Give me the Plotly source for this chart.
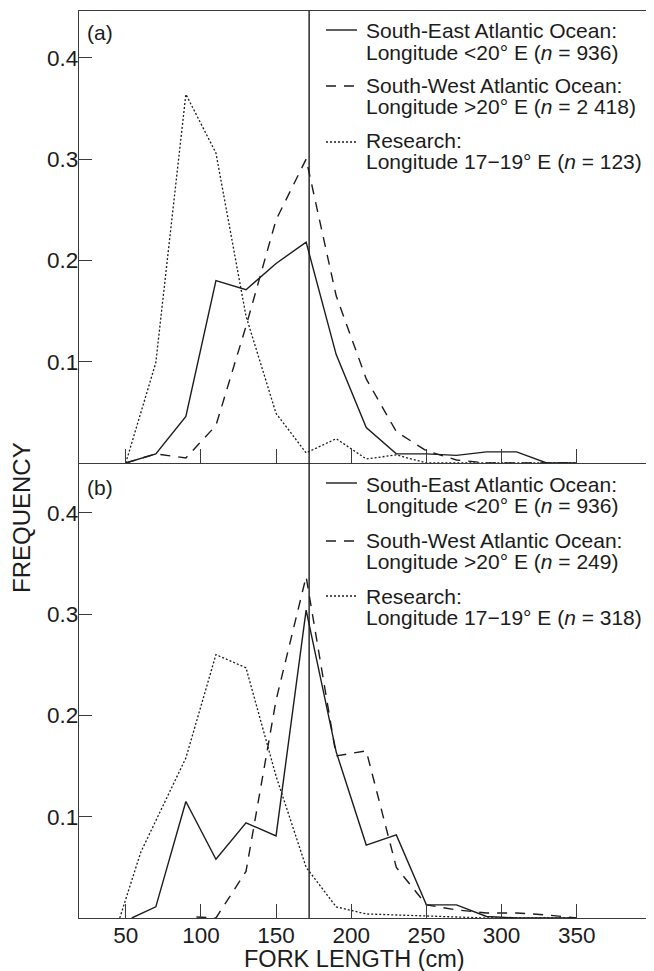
import plotly.graph_objects as go

# ---------------- data ----------------
fl_a = [50, 70, 90, 110, 130, 150, 170, 190, 210, 230, 250, 270, 290, 310, 330, 350]
se_a = [0, 0.009, 0.046, 0.180, 0.171, 0.197, 0.218, 0.107, 0.035, 0.009, 0.009, 0.0075, 0.011, 0.011, 0, 0]
sw_a = [0, 0.009, 0.005, 0.037, 0.135, 0.240, 0.300, 0.165, 0.083, 0.031, 0.012, 0.003, 0, 0, 0, 0]
rs_a = [0, 0.099, 0.364, 0.306, 0.145, 0.049, 0.010, 0.024, 0.004, 0.008, 0, 0, 0, 0, 0, 0]

se_b_x = [54, 70, 90, 110, 130, 150, 170, 190, 210, 230, 250, 270, 290, 310, 330, 350]
se_b = [0, 0.011, 0.115, 0.058, 0.094, 0.081, 0.304, 0.164, 0.072, 0.082, 0.013, 0.013, 0.0015, 0, 0, 0]
sw_b_x = [97, 110, 130, 150, 170, 190, 210, 230, 250, 270, 290, 310, 330, 350]
sw_b = [0.001, 0, 0.046, 0.215, 0.337, 0.160, 0.165, 0.050, 0.013, 0.008, 0.005, 0.005, 0.003, 0]
rs_b_x = [46, 60, 90, 110, 130, 150, 170, 190, 210, 230, 250, 270, 290, 310, 330, 350]
rs_b = [0, 0.065, 0.158, 0.260, 0.247, 0.140, 0.050, 0.011, 0.004, 0.003, 0.002, 0.001, 0, 0, 0, 0]

x_ticks = [50, 100, 150, 200, 250, 300, 350]
y_ticks = [0.1, 0.2, 0.3, 0.4]
y_tick_text = ["0.1", "0.2", "0.3", "0.4"]
divider_x = 172

legend_a = [
    ("South-East Atlantic Ocean:", "Longitude <20° E (<i>n</i> = 936)"),
    ("South-West Atlantic Ocean:", "Longitude >20° E (<i>n</i> = 2 418)"),
    ("Research:", "Longitude 17\u221219° E (<i>n</i> = 123)"),
]
legend_b = [
    ("South-East Atlantic Ocean:", "Longitude <20° E (<i>n</i> = 936)"),
    ("South-West Atlantic Ocean:", "Longitude >20° E (<i>n</i> = 249)"),
    ("Research:", "Longitude 17\u221219° E (<i>n</i> = 318)"),
]

# ---------------- styling ----------------
# the page body adds an 8px offset, so the figure is 8px smaller than the window
OFF = 8
W, H = 654 - OFF, 971 - OFF
PL, PR, PT, PB = 79, 652, 11, 918          # plot area in page pixels
ML, MT = PL - OFF, PT - OFF
MR, MB = (OFF + W) - PR, (OFF + H) - PB
PW, PH = PR - PL, PB - PT
FONT = "Liberation Sans, Arial, Helvetica, sans-serif"
INK = "#1c1c1c"
AX = "#3a3a3a"
DASHES = ["solid", "10px,8px", "2px,2px"]
WIDTHS = [1.4, 1.4, 1.3]


def px(xp):
    return (xp - PL) / PW


def py(yp):
    return (PB - yp) / PH


split = py(463)

fig = go.Figure()
series = [
    ("x", "y", fl_a, se_a, 0), ("x", "y", fl_a, sw_a, 1), ("x", "y", fl_a, rs_a, 2),
    ("x2", "y2", se_b_x, se_b, 0), ("x2", "y2", sw_b_x, sw_b, 1), ("x2", "y2", rs_b_x, rs_b, 2),
]
for xa, ya, xs, ys, k in series:
    fig.add_trace(go.Scatter(x=xs, y=ys, xaxis=xa, yaxis=ya, mode="lines",
                             line=dict(color=INK, width=WIDTHS[k], dash=DASHES[k]),
                             showlegend=False, hoverinfo="skip", cliponaxis=True))

xr = [18.9, 400.1]
common_x = dict(range=xr, tickvals=x_ticks, ticks="inside", ticklen=14, tickwidth=1.3,
                tickcolor=AX, showline=True, linecolor=AX, linewidth=1.3,
                showgrid=False, zeroline=False, automargin=False)
common_y = dict(tickvals=y_ticks, ticktext=y_tick_text, ticks="inside", ticklen=13,
                tickwidth=1.3, tickcolor=AX, showline=True, linecolor=AX, linewidth=1.3,
                mirror=True, showgrid=False, zeroline=False, automargin=False,
                ticklabelstandoff=-5,
                tickfont=dict(family=FONT, size=22.5, color=INK))

fig.update_layout(
    width=W, height=H, margin=dict(l=ML, r=MR, t=MT, b=MB, autoexpand=False),
    paper_bgcolor="white", plot_bgcolor="white", showlegend=False,
    xaxis=dict(common_x, domain=[0, 1], anchor="y", showticklabels=False, mirror=True),
    yaxis=dict(common_y, domain=[split, 1], anchor="x", range=[0, 452 / 1013]),
    xaxis2=dict(common_x, domain=[0, 1], anchor="y2", showticklabels=True,
                ticklabelstandoff=-3,
                tickfont=dict(family=FONT, size=22.5, color=INK), matches="x"),
    yaxis2=dict(common_y, domain=[0, split], anchor="x2", range=[0, 455 / 1013]),
)

# vertical divider across both panels
fig.add_shape(type="line", xref="x", yref="paper", x0=divider_x, x1=divider_x, y0=0, y1=1,
              line=dict(color=INK, width=1.4))

annotations = []
shapes = []


def add_legend(entries, sample_y, text_y):
    for k, ((l1, l2), sy, ty) in enumerate(zip(entries, sample_y, text_y)):
        shapes.append(dict(type="line", xref="paper", yref="paper",
                           x0=px(326), x1=px(357), y0=py(sy), y1=py(sy),
                           line=dict(color=INK, width=WIDTHS[k], dash=DASHES[k])))
        for j, t in enumerate((l1, l2)):
            annotations.append(dict(text=t, xref="paper", yref="paper", x=px(364),
                                    y=py(ty + 21 * j), xanchor="left", yanchor="middle",
                                    showarrow=False, font=dict(family=FONT, size=21, color=INK)))


add_legend(legend_a, [30, 86, 142], [31, 85, 140])
add_legend(legend_b, [483, 541, 596], [484, 540, 596])

annotations.append(dict(text="(a)", xref="paper", yref="paper", x=px(85), y=py(33),
                        xanchor="left", yanchor="middle", showarrow=False,
                        font=dict(family=FONT, size=21, color=INK)))
annotations.append(dict(text="(b)", xref="paper", yref="paper", x=px(85), y=py(487),
                        xanchor="left", yanchor="middle", showarrow=False,
                        font=dict(family=FONT, size=21, color=INK)))
annotations.append(dict(text="FORK LENGTH (cm)", xref="paper", yref="paper", x=px(354), y=py(959),
                        xanchor="center", yanchor="middle", showarrow=False,
                        font=dict(family=FONT, size=23.5, color=INK)))
annotations.append(dict(text="FREQUENCY", xref="paper", yref="paper", x=px(21), y=py(518),
                        xanchor="center", yanchor="middle", showarrow=False, textangle=-90,
                        font=dict(family=FONT, size=24, color=INK)))

for s in shapes:
    fig.add_shape(**s)
fig.update_layout(annotations=annotations)

fig.write_html("out.html")
